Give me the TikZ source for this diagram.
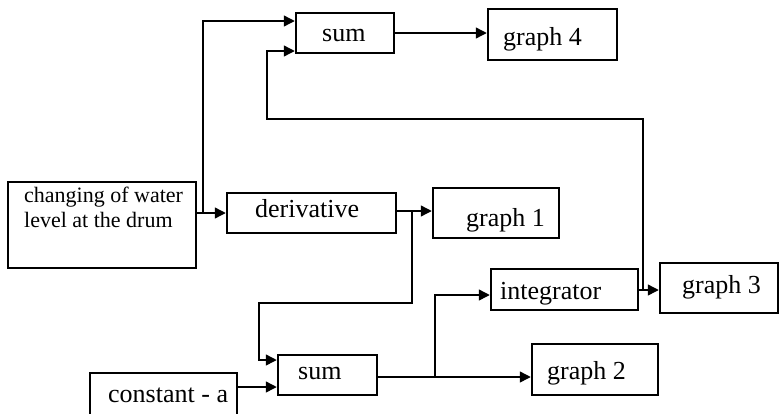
\documentclass[tikz,border=0pt]{standalone}
\usepackage{fontspec}
\newfontfamily\lblfont{Liberation Serif}
\usetikzlibrary{arrows.meta}
\tikzset{
  blk/.style={draw, line width=2.5pt, inner sep=0pt, rectangle},
  lbl/.style={anchor=base west, inner sep=0pt, font=\lblfont\fontsize{26}{30}\selectfont},
  lblsm/.style={anchor=base west, inner sep=0pt, align=left, font=\lblfont\fontsize{22}{25}\selectfont},
  wire/.style={line width=1.4pt},
  arr/.style={wire, -{Triangle[length=11pt,width=11pt]}}
}
% box from its corners: #1 = name, (x1,y1) (x2,y2)
\newcommand\mkbox[5]{%
  \node[blk, minimum width={#4-#2}, minimum height={#5-#3}] (#1) at ({(#2+#4)/2},{(#3+#5)/2}) {};}
\begin{document}
\begin{tikzpicture}[x=1pt,y=-1pt]
\clip (0,0) rectangle (779,413);
\fill[white] (0,0) rectangle (779,413);

% blocks
\mkbox{chg}{8}{182}{196}{268}
\mkbox{der}{227}{193}{396}{233}
\mkbox{gA}{433}{188}{559}{238}
\mkbox{sumT}{296}{13}{394}{53}
\mkbox{gD}{488}{9}{617}{60}
\mkbox{integ}{491}{269}{638}{310}
\mkbox{gC}{660}{263}{778}{313}
\mkbox{sumB}{278}{355}{377}{395}
\mkbox{gB}{532}{344}{658}{395}
\mkbox{cst}{90}{373}{237}{420}

% labels (the two-line one is placed by its last baseline)
\node[lblsm] (t-chg) at (24,227) {changing of water\\level at the drum};
\node[lbl] (t-der) at (255,217) {derivative};
\node[lbl] (t-gA) at (466,226) {graph 1};
\node[lbl] (t-sumT) at (322,41) {sum};
\node[lbl] (t-gD) at (503,45) {graph 4};
\node[lbl] (t-integ) at (500,299) {integrator};
\node[lbl] (t-gC) at (682,293) {graph 3};
\node[lbl] (t-sumB) at (298,379) {sum};
\node[lbl] (t-gB) at (547,379) {graph 2};
\node[lbl] (t-cst) at (108,402) {constant - a};

% junction points
\coordinate (jIn) at (203,213);
\coordinate (jDer) at (412,211);
\coordinate (jSum) at (435,377);
\coordinate (jInt) at (643,290);

% signal paths
\draw[arr] (chg.east |- jIn) -- (der.west |- jIn);
\draw[arr] (jIn) |- (sumT.west |- 0,21);
\draw[arr] (sumT.east |- 0,33) -- (gD.west |- 0,33);
\draw[arr] (der.east |- jDer) -- (gA.west |- jDer);
\draw[arr] (jDer) -- (412,303) -- (259,303) |- (sumB.west |- 0,360);
\draw[arr] (cst.east |- 0,387) -- (sumB.west |- 0,387);
\draw[arr] (sumB.east |- jSum) -- (gB.west |- jSum);
\draw[arr] (jSum) |- (integ.west |- 0,295);
\draw[arr] (integ.east |- jInt) -- (gC.west |- jInt);
\draw[arr] (jInt) -- (643,119) -- (267,119) |- (sumT.west |- 0,51);
\end{tikzpicture}
\end{document}
